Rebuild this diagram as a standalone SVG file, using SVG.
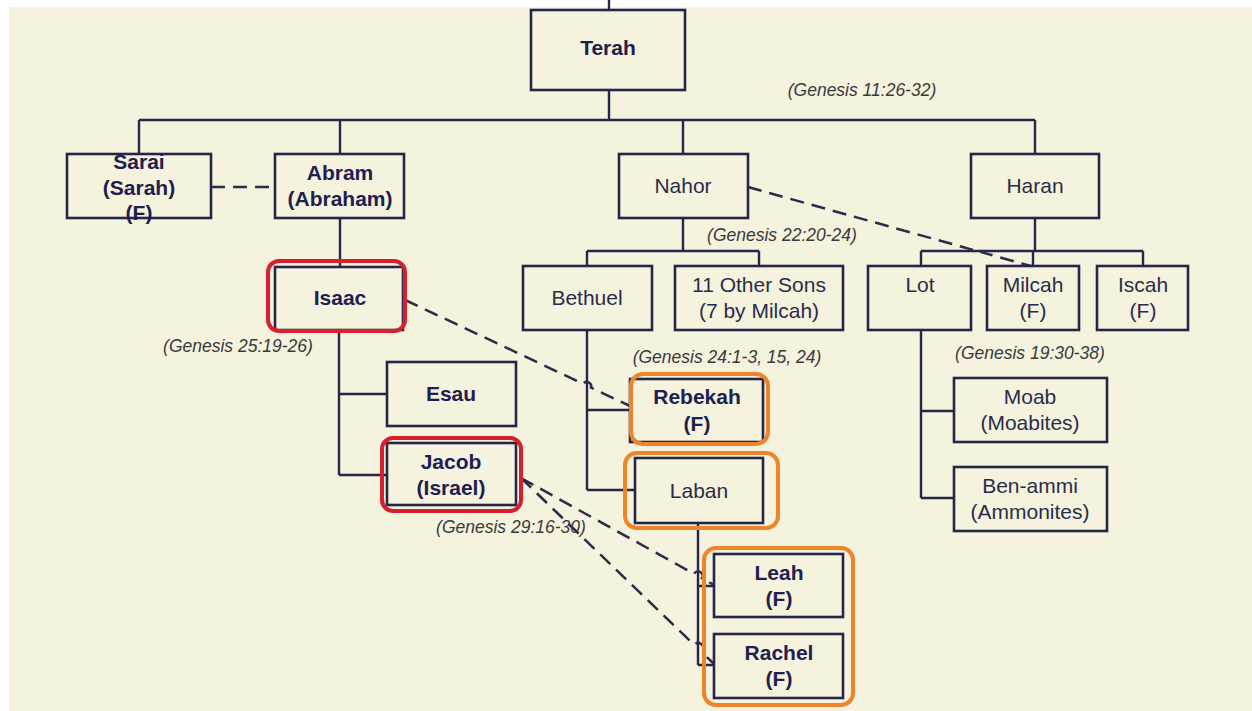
<svg xmlns="http://www.w3.org/2000/svg" width="1252" height="711" viewBox="0 0 1252 711">
<style>
.box{fill:none;stroke:#24264a;stroke-width:2.6}
.ln{fill:none;stroke:#24264a;stroke-width:2.4}
.dash{fill:none;stroke:#2a2c48;stroke-width:2.5;stroke-dasharray:14 8}
.red{fill:none;stroke:#d8202c;stroke-width:4}
.org{fill:none;stroke:#f0842a;stroke-width:4}
text{font-family:"Liberation Sans",Arial,sans-serif;text-anchor:middle}
.b{font-size:21px;font-weight:bold;fill:#1d2050}
.r{font-size:21px;fill:#2a2d4a}
.i{font-size:17.5px;font-style:italic;fill:#3a3a3e}
</style>
<rect x="0" y="0" width="1252" height="711" fill="#ffffff"/>
<rect x="9" y="7" width="1243" height="704" fill="#f5f2dd"/>

<g id="connectors">
<path class="ln" d="M609 0V10"/>
<path class="ln" d="M609 90V120M139 120H1035M139 120V154M340 120V154M683 120V154M1035 120V154"/>
<path class="ln" d="M340 218V267M339 330V475M339 394H387M339 475H387"/>
<path class="ln" d="M683 218V251M587 251H759M587 251V266M759 251V266"/>
<path class="ln" d="M587 330V490M587 410H630M587 490H635"/>
<path class="ln" d="M698 523V665M698 586H714M698 665H714"/>
<path class="ln" d="M1035 218V251M921 251H1143M921 251V266M1033 251V266M1143 251V266"/>
<path class="ln" d="M921 330V498M921 411H954M921 498H954"/>
<path class="dash" d="M211 187H275"/>
<path class="dash" d="M748 187L973 249.9A4.5 4.5 0 0 1 981 252.1L1031 266"/>
<path class="dash" d="M405 300L583 383.8A4.5 4.5 0 0 1 591 387.6L630 406"/>
<path class="dash" d="M521 478L694 573.8A4.5 4.5 0 0 1 702 578.2L714 585"/>
<path class="dash" d="M521 478L694 644.7A4.5 4.5 0 0 1 702 652.4L714 664"/>
</g>

<g id="terah"><rect class="box" x="531" y="10" width="154" height="80"/><text class="b" x="608" y="55">Terah</text></g>
<g id="sarai"><rect class="box" x="67" y="154" width="144" height="64"/><text class="b" x="139" y="169">Sarai</text><text class="b" x="139" y="195">(Sarah)</text><text class="b" x="139" y="220">(F)</text></g>
<g id="abram"><rect class="box" x="275" y="154" width="129" height="64"/><text class="b" x="340" y="180">Abram</text><text class="b" x="340" y="206">(Abraham)</text></g>
<g id="nahor"><rect class="box" x="619" y="154" width="129" height="64"/><text class="r" x="683" y="193">Nahor</text></g>
<g id="haran"><rect class="box" x="971" y="154" width="128" height="64"/><text class="r" x="1035" y="193">Haran</text></g>

<g id="isaac"><rect class="box" x="275" y="267" width="128" height="63"/><text class="b" x="340" y="305">Isaac</text></g>
<g id="esau"><rect class="box" x="387" y="362" width="129" height="64"/><text class="b" x="451" y="401">Esau</text></g>
<g id="jacob"><rect class="box" x="387" y="443" width="129" height="62"/><text class="b" x="451" y="469">Jacob</text><text class="b" x="451" y="495">(Israel)</text></g>

<g id="bethuel"><rect class="box" x="523" y="266" width="129" height="64"/><text class="r" x="587" y="305">Bethuel</text></g>
<g id="othersons"><rect class="box" x="675" y="266" width="168" height="64"/><text class="r" x="759" y="292">11 Other Sons</text><text class="r" x="759" y="318">(7 by Milcah)</text></g>
<g id="rebekah"><rect class="box" x="630" y="379" width="133" height="63"/><text class="b" x="697" y="404">Rebekah</text><text class="b" x="697" y="431">(F)</text></g>
<g id="laban"><rect class="box" x="635" y="458" width="128" height="65"/><text class="r" x="699" y="498">Laban</text></g>
<g id="leah"><rect class="box" x="714" y="554" width="129" height="63"/><text class="b" x="779" y="580">Leah</text><text class="b" x="779" y="606">(F)</text></g>
<g id="rachel"><rect class="box" x="714" y="634" width="129" height="64"/><text class="b" x="779" y="660">Rachel</text><text class="b" x="779" y="686">(F)</text></g>

<g id="lot"><rect class="box" x="868" y="266" width="103" height="64"/><text class="r" x="920" y="292">Lot</text></g>
<g id="milcah"><rect class="box" x="987" y="266" width="92" height="64"/><text class="r" x="1033" y="292">Milcah</text><text class="r" x="1033" y="318">(F)</text></g>
<g id="iscah"><rect class="box" x="1097" y="266" width="91" height="64"/><text class="r" x="1143" y="292">Iscah</text><text class="r" x="1143" y="318">(F)</text></g>
<g id="moab"><rect class="box" x="954" y="378" width="153" height="64"/><text class="r" x="1030" y="404">Moab</text><text class="r" x="1030" y="430">(Moabites)</text></g>
<g id="benammi"><rect class="box" x="954" y="467" width="153" height="64"/><text class="r" x="1030" y="493">Ben-ammi</text><text class="r" x="1030" y="519">(Ammonites)</text></g>

<g id="highlights">
<rect class="red" x="268" y="261" width="137" height="70" rx="11"/>
<rect class="red" x="382" y="438" width="139" height="73" rx="11"/>
<rect class="org" x="631" y="374" width="137" height="70" rx="12"/>
<rect class="org" x="625" y="453" width="153" height="75" rx="12"/>
<rect class="org" x="704" y="548" width="149" height="157" rx="12"/>
</g>

<g id="references">
<text class="i" x="862" y="96">(Genesis 11:26-32)</text>
<text class="i" x="782" y="241">(Genesis 22:20-24)</text>
<text class="i" x="238" y="352">(Genesis 25:19-26)</text>
<text class="i" x="727" y="363">(Genesis 24:1-3, 15, 24)</text>
<text class="i" x="1030" y="359">(Genesis 19:30-38)</text>
<text class="i" x="511" y="533">(Genesis 29:16-30)</text>
</g>
</svg>
